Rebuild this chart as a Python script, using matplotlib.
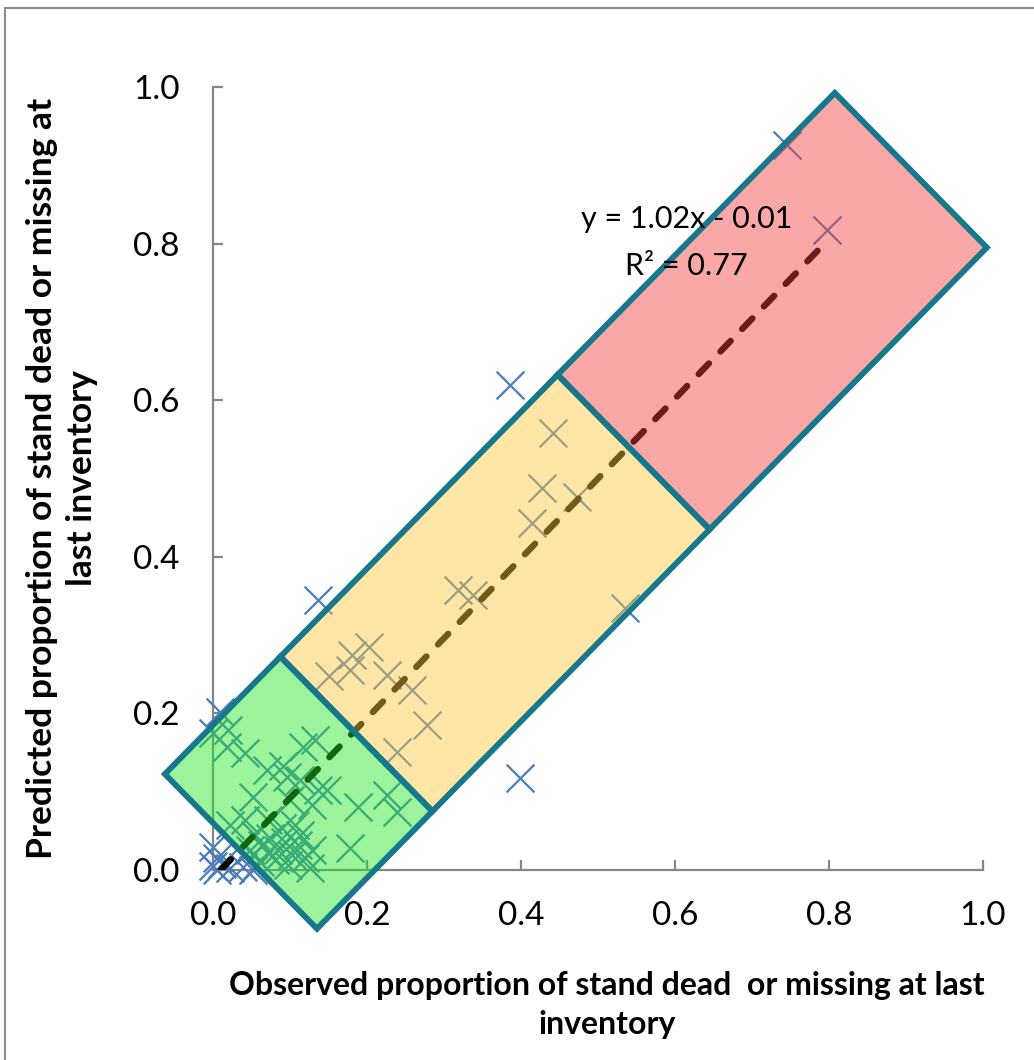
import matplotlib
matplotlib.use("Agg")
import matplotlib.pyplot as plt
from matplotlib.patches import Polygon, Rectangle
import numpy as np

plt.rcParams['font.family'] = ['Lato', 'DejaVu Sans']

# Observed vs predicted proportion of stand dead or missing
observed = [
    0.745, 0.797,
    0.386, 0.136, 0.399, 0.535,
    0.442, 0.427, 0.473, 0.414, 0.318, 0.338, 0.203, 0.181, 0.178, 0.151,
    0.226, 0.258, 0.278, 0.239,
    0.009, 0.000, 0.020, 0.018, 0.042, 0.070, 0.096, 0.132, 0.117, 0.148,
    0.129, 0.188, 0.226, 0.239, 0.178, 0.052, 0.042, 0.113, 0.136, 0.091,
    0.071, 0.100, 0.022,
    0.064, 0.074, 0.084, 0.094, 0.103, 0.110, 0.119, 0.081, 0.097, 0.061,
    0.113, 0.129, 0.090, 0.106, 0.071, 0.126, 0.048, 0.055,
    0.000, 0.005, 0.012, 0.000, 0.005, 0.022, 0.039, 0.057, 0.052,
]
predicted = [
    0.926, 0.817,
    0.619, 0.345, 0.117, 0.335,
    0.558, 0.488, 0.476, 0.443, 0.358, 0.351, 0.285, 0.275, 0.255, 0.248,
    0.249, 0.230, 0.185, 0.151,
    0.202, 0.175, 0.179, 0.157, 0.150, 0.128, 0.119, 0.166, 0.157, 0.102,
    0.083, 0.080, 0.096, 0.074, 0.028, 0.093, 0.064, 0.115, 0.102, 0.133,
    0.064, 0.089, 0.057,
    0.032, 0.041, 0.026, 0.036, 0.019, 0.032, 0.015, 0.013, 0.006, 0.010,
    0.045, 0.026, 0.054, 0.057, 0.023, 0.003, 0.026, 0.045,
    0.030, 0.015, 0.008, 0.005, 0.000, 0.002, 0.004, 0.006, 0.000,
]

# Linear fit reported on the chart
slope, intercept, r2 = 1.02, -0.01, 0.77
fit_range = (0.01, 0.80)

# Risk classes as bands along the 1:1 line:
# along-diagonal limits (x+y)/2 and across-diagonal offsets (y-x)
class_limits = [0.03, 0.18, 0.54, 0.90]
band_offsets = (-0.21, 0.185)
class_colors = ['#22e622', '#ffc83c', '#f53c3c']

ticks = [0.0, 0.2, 0.4, 0.6, 0.8, 1.0]
tick_labels = ['0.0', '0.2', '0.4', '0.6', '0.8', '1.0']

W, H = 1034, 1060
fig = plt.figure(figsize=(W / 100, H / 100), dpi=100)
ax = fig.add_axes([213 / W, 1 - 870 / H, 770 / W, 783 / H])

ax.set_xlim(0, 1.0)
ax.set_ylim(0, 1.0)

ax.scatter(observed, predicted, marker='x', s=20 ** 2, linewidths=1.6,
           color='#4a7ebb', zorder=2, clip_on=False)

xf = np.array(fit_range)
ax.plot(xf, slope * xf + intercept, color='black', lw=4.6, ls=(0, (2.3, 2.6)),
        dash_capstyle='round', solid_capstyle='round', zorder=2.2)

d_lo, d_hi = band_offsets
for (s0, s1), col in zip(zip(class_limits[:-1], class_limits[1:]), class_colors):
    corners = [(s0, d_hi), (s1, d_hi), (s1, d_lo), (s0, d_lo)]
    verts = [(s - d / 2, s + d / 2) for s, d in corners]
    ax.add_patch(Polygon(verts, closed=True, facecolor=col, alpha=0.45,
                         edgecolor='none', zorder=3, clip_on=False))
    ax.add_patch(Polygon(verts, closed=True, facecolor='none',
                         edgecolor='#17788c', lw=4.2, zorder=3.5,
                         clip_on=False, joinstyle='miter'))

ax.text(0.615, 0.832, f'y = {slope:.2f}x - {abs(intercept):.2f}', ha='center',
        va='center', fontsize=22, zorder=5)
ax.text(0.615, 0.772, f'R² = {r2:.2f}', ha='center', va='center',
        fontsize=22, zorder=5)

for side in ['top', 'right']:
    ax.spines[side].set_visible(False)
for side in ['left', 'bottom']:
    ax.spines[side].set_color('#868686')
    ax.spines[side].set_linewidth(1.6)
    ax.spines[side].set_zorder(1)

ax.set_xticks(ticks)
ax.set_yticks(ticks)
ax.set_xticklabels(tick_labels)
ax.set_yticklabels(tick_labels)
ax.tick_params(direction='in', length=7, width=1.6, color='#868686',
               labelsize=24, labelcolor='black')
ax.tick_params(axis='y', pad=24)
ax.tick_params(axis='x', pad=22)
ax.patch.set_alpha(0)

fig.text(607 / W, 1 - 1005 / H,
         'Observed proportion of stand dead  or missing at last\ninventory',
         ha='center', va='center', fontsize=23, fontweight='bold',
         linespacing=1.45)
fig.text(62 / W, 1 - 478 / H,
         'Predicted proportion of stand dead or missing at\nlast inventory',
         ha='center', va='center', rotation=90, fontsize=25.5,
         fontweight='bold', linespacing=1.3)

# Chart-area frame
fig.patches.append(Rectangle((5 / W, -0.05), 1.2, 1.05 - 8 / H,
                             transform=fig.transFigure, fill=False,
                             edgecolor='#8c8c8c', lw=1.5))

fig.savefig('out.png', dpi=100)
